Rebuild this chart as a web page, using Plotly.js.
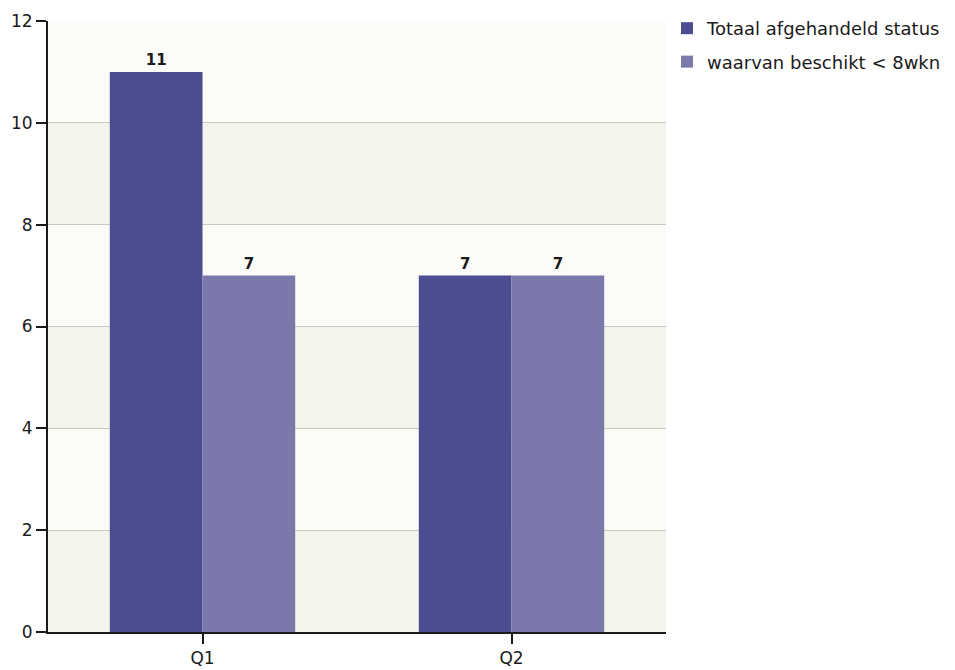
<!DOCTYPE html>
<html>
<head>
<meta charset="utf-8">
<script src="https://cdn.plot.ly/plotly-3.0.1.min.js"></script>
<style>html,body{margin:0;padding:0;background:#fff;}#chart{width:955px;height:670px;}</style>
</head>
<body>
<div id="chart"></div>
<script>
const categories = ["Q1", "Q2"];
const seriesNames = ["Totaal afgehandeld status", "waarvan beschikt < 8wkn"];
const totaal = [11, 7];
const binnen8 = [7, 7];
const yTicks = [0, 2, 4, 6, 8, 10, 12];

const colors = ["#4c4c91", "#7b79ab"];
const font = "DejaVu Sans, Verdana, sans-serif";

const traces = [totaal, binnen8].map((vals, i) => ({
  type: "bar",
  name: seriesNames[i],
  x: categories,
  y: vals,
  marker: {color: colors[i], line: {width: 0}},
  text: vals.map(v => "<b>" + v + "</b>"),
  textposition: "outside",
  textfont: {family: font, size: 15, color: "#1a1a1a"},
  cliponaxis: false,
  legendgroup: "g" + i,
  hoverinfo: "x+y"
}));

// alternating background bands
const shapes = [];
for (let k = 0; k < yTicks.length - 1; k++) {
  shapes.push({
    type: "rect", xref: "paper", yref: "y", layer: "below",
    x0: 0, x1: 1, y0: yTicks[k], y1: yTicks[k + 1],
    fillcolor: (k % 2 === 0) ? "#f3f5ec" : "#fbfcf7",
    line: {width: 0}
  });
}

const layout = {
  width: 955, height: 670,
  margin: {l: 48, r: 289, t: 21, b: 38},
  paper_bgcolor: "#ffffff",
  plot_bgcolor: "#fbfcf7",
  font: {family: font, size: 17, color: "#1a1a1a"},
  barmode: "group",
  bargap: 0.4,
  bargroupgap: 0,
  showlegend: true,
  legend: {
    xref: "container", yref: "container",
    x: 667 / 955, y: 1 - 10 / 670, xanchor: "left", yanchor: "top",
    traceorder: "grouped", tracegroupgap: 7,
    font: {family: font, size: 18, color: "#1a1a1a"},
    bgcolor: "rgba(0,0,0,0)"
  },
  xaxis: {
    type: "category",
    range: [-0.5, 1.5],
    showgrid: false,
    showline: true, linecolor: "#1a1a1a", linewidth: 2,
    ticks: "outside", ticklen: 10, tickcolor: "#1a1a1a", tickwidth: 2,
    tickfont: {family: font, size: 17, color: "#1a1a1a"},
    fixedrange: true
  },
  yaxis: {
    range: [0, 12],
    tickvals: yTicks,
    ticktext: yTicks.map(String),
    showgrid: true, gridcolor: "#c8c9c0", gridwidth: 1,
    zeroline: false,
    showline: true, linecolor: "#1a1a1a", linewidth: 2,
    ticks: "outside", ticklen: 10, tickcolor: "#1a1a1a", tickwidth: 2,
    tickfont: {family: font, size: 17, color: "#1a1a1a"},
    fixedrange: true
  },
  shapes: shapes
};

Plotly.newPlot("chart", traces, layout, {displayModeBar: false, staticPlot: true});
</script>
</body>
</html>
